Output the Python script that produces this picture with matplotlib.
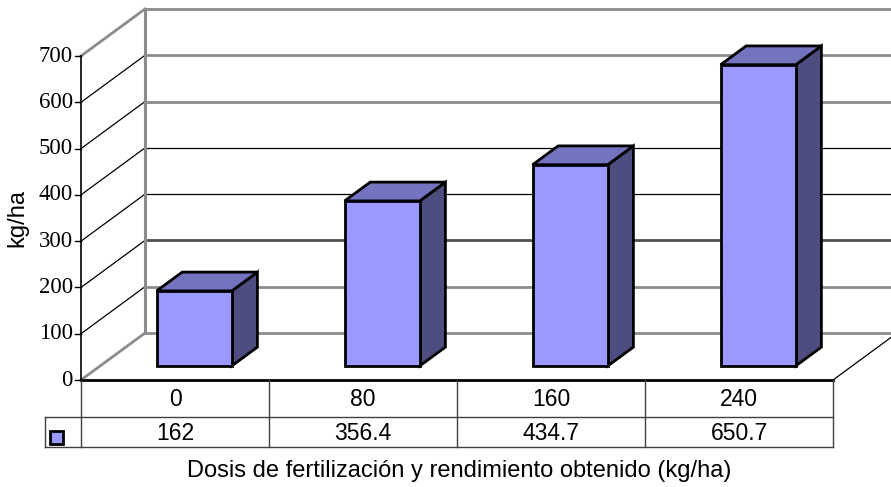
import matplotlib
matplotlib.use("Agg")
import matplotlib.pyplot as plt
from matplotlib.patches import Polygon

# --- data ---
doses = ["0", "80", "160", "240"]
yields = [162, 356.4, 434.7, 650.7]
value_labels = ["162", "356.4", "434.7", "650.7"]
y_ticks = [0, 100, 200, 300, 400, 500, 600, 700]

# --- geometry of the Excel-like 3D box (pixels) ---
W, H = 891, 487
X0, Y0 = 81, 380          # front-left corner of floor
COLW = 188                # width of one category
SCALE = 324 / 700         # px per kg/ha
DX, DY = 64, 47           # depth offset of back wall
VMAX = 700

FRONT = "#9999FF"
TOP = "#7373BF"
SIDE = "#4D4D80"
GRAY = "#8C8C8C"


def proj(c, v, d):
    """category units c, value v, depth 0..1 -> pixel coords"""
    return (X0 + c * COLW + d * DX, Y0 - v * SCALE - d * DY)


fig = plt.figure(figsize=(W / 100, H / 100), dpi=100)
ax = fig.add_axes([0, 0, 1, 1])
ax.set_xlim(0, W)
ax.set_ylim(H, 0)
ax.axis("off")

n = len(doses)

# walls and gridlines
grid_cols = {0: GRAY, 100: GRAY, 200: "#505050", 300: "black", 400: "black",
             500: GRAY, 600: GRAY, 700: GRAY}
for v in y_ticks:
    p0, p1, p2 = proj(0, v, 0), proj(0, v, 1), proj(n, v, 1)
    side_col = GRAY if v in (0, VMAX) else "black"
    side_lw = 2 if v in (0, VMAX) else 0.9
    ax.plot([p0[0], p1[0]], [p0[1], p1[1]], color=side_col, lw=side_lw, zorder=2)
    back_lw = 0.9 if grid_cols[v] == "black" else 2
    ax.plot([p1[0], p2[0]], [p1[1], p2[1]], color=grid_cols[v], lw=back_lw, zorder=2)

# back-left vertical edge
b0, b1 = proj(0, 0, 1), proj(0, VMAX, 1)
ax.plot([b0[0], b1[0]], [b0[1], b1[1]], color=GRAY, lw=2.2, zorder=2)

# floor right diagonal
f0, f1 = proj(n, 0, 0), proj(n, 0, 1)
ax.plot([f0[0], f1[0]], [f0[1], f1[1]], color="black", lw=0.9, zorder=2)

# front value axis
a0, a1 = proj(0, 0, 0), proj(0, VMAX, 0)
ax.plot([a0[0], a1[0]], [a0[1], a1[1]], color="black", lw=1.2, zorder=3)
for v in y_ticks:
    px, py = proj(0, v, 0)
    ax.plot([px - 6, px], [py, py], color="black", lw=1, zorder=3)
    ax.text(px - 8, py, str(v), ha="right", va="center", fontsize=16.5,
            family="Liberation Serif", zorder=3)

# bars
bw, d0, d1 = 0.4, 0.3, 0.7
for i, val in enumerate(yields):
    cl, cr = i + 0.5 - bw / 2, i + 0.5 + bw / 2
    front = [proj(cl, 0, d0), proj(cr, 0, d0), proj(cr, val, d0), proj(cl, val, d0)]
    top = [proj(cl, val, d0), proj(cr, val, d0), proj(cr, val, d1), proj(cl, val, d1)]
    side = [proj(cr, 0, d0), proj(cr, 0, d1), proj(cr, val, d1), proj(cr, val, d0)]
    for pts, col in ((side, SIDE), (top, TOP), (front, FRONT)):
        ax.add_patch(Polygon(pts, closed=True, facecolor=col, edgecolor="black",
                             lw=2, joinstyle="miter", zorder=4))

# data table
R0, R1, R2 = 380, 417, 447
LEG_X = 45
XR = X0 + n * COLW
ax.plot([X0, XR], [R0, R0], color="black", lw=2, zorder=5)
ax.plot([LEG_X, XR], [R1, R1], color="#404040", lw=1, zorder=5)
ax.plot([LEG_X, XR], [R2, R2], color="#404040", lw=1, zorder=5)
ax.plot([LEG_X, LEG_X], [R1, R2], color="#404040", lw=1, zorder=5)
for k in range(n + 1):
    xk = X0 + k * COLW
    ax.plot([xk, xk], [R0, R2], color="#404040", lw=1, zorder=5)
for k in range(n):
    xc = X0 + (k + 0.5) * COLW
    ax.text(xc, (R0 + R1) / 2 + 1, doses[k], ha="center", va="center",
            fontsize=16.5, family="Liberation Sans")
    ax.text(xc, (R1 + R2) / 2 + 1, value_labels[k], ha="center", va="center",
            fontsize=16.5, family="Liberation Sans")
ax.add_patch(plt.Rectangle((49.5, 431), 13, 13, facecolor=FRONT,
                           edgecolor="black", lw=2, zorder=6))

# axis titles
ax.text(459, 471, "Dosis de fertilización y rendimiento obtenido (kg/ha)",
        ha="center", va="center", fontsize=17, family="Liberation Sans")
ax.text(17, 218, "kg/ha", ha="center", va="center", rotation=90,
        fontsize=17, family="Liberation Sans")

fig.savefig("out.png", dpi=100)
